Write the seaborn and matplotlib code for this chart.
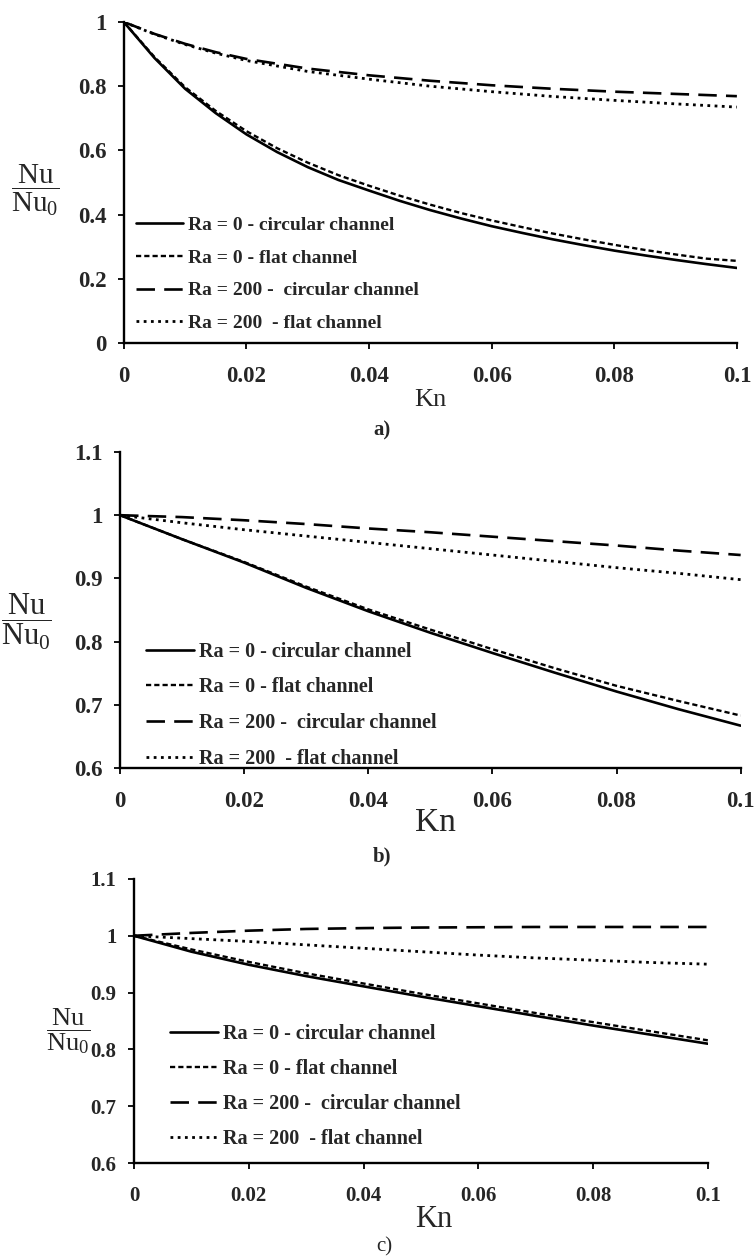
import numpy as np
import pandas as pd
import matplotlib
matplotlib.use("Agg")
import matplotlib.pyplot as plt
from matplotlib.ticker import FormatStrFormatter
import seaborn as sns

# Kn grids
KN_FINE = [0, 0.005, 0.01, 0.015, 0.02, 0.025, 0.03, 0.035, 0.04, 0.045, 0.05,
           0.055, 0.06, 0.065, 0.07, 0.075, 0.08, 0.085, 0.09, 0.095, 0.1]
KN_MID = [0, 0.005, 0.01, 0.015, 0.02, 0.03, 0.04, 0.05, 0.06, 0.07, 0.08, 0.09, 0.1]
KN_COARSE = [0, 0.01, 0.02, 0.03, 0.04, 0.05, 0.06, 0.07, 0.08, 0.09, 0.1]

# panel a)
A_RA0_CIRC = [1.0, 0.888, 0.792, 0.716, 0.65, 0.595, 0.548, 0.508, 0.475, 0.443, 0.414,
              0.388, 0.364, 0.343, 0.323, 0.305, 0.288, 0.273, 0.259, 0.246, 0.234]
A_RA0_FLAT = [1.0, 0.891, 0.797, 0.723, 0.66, 0.607, 0.562, 0.523, 0.49, 0.459, 0.431,
              0.405, 0.382, 0.361, 0.341, 0.323, 0.306, 0.29, 0.276, 0.263, 0.256]
A_RA200_CIRC = [1.0, 0.963, 0.932, 0.906, 0.885, 0.855, 0.834, 0.817, 0.803, 0.792, 0.783, 0.776, 0.769]
A_RA200_FLAT = [1.0, 0.962, 0.930, 0.903, 0.88, 0.846, 0.822, 0.8, 0.783, 0.768, 0.756, 0.745, 0.735]

# panel b)
B_RA0_CIRC = [1.0, 0.962, 0.925, 0.885, 0.848, 0.814, 0.782, 0.751, 0.721, 0.693, 0.667]
B_RA0_FLAT = [1.0, 0.962, 0.926, 0.887, 0.851, 0.819, 0.788, 0.758, 0.73, 0.706, 0.683]
B_RA200_CIRC = [1.0, 0.997, 0.992, 0.986, 0.979, 0.973, 0.966, 0.959, 0.952, 0.944, 0.937]
B_RA200_FLAT = [1.0, 0.988, 0.977, 0.967, 0.957, 0.947, 0.937, 0.927, 0.917, 0.908, 0.898]

# panel c)
C_RA0_CIRC = [1.0, 0.972, 0.949, 0.929, 0.911, 0.893, 0.876, 0.859, 0.842, 0.826, 0.81]
C_RA0_FLAT = [1.0, 0.976, 0.954, 0.934, 0.916, 0.898, 0.881, 0.864, 0.848, 0.832, 0.816]
C_RA200_CIRC = [1.0, 1.005, 1.009, 1.012, 1.0135, 1.0145, 1.015, 1.0155, 1.0155, 1.0155, 1.0155]
C_RA200_FLAT = [1.0, 0.995, 0.99, 0.984, 0.978, 0.972, 0.966, 0.961, 0.957, 0.953, 0.95]

LABELS = ["Ra = 0 - circular channel", "Ra = 0 - flat channel",
          "Ra = 200 -  circular channel", "Ra = 200  - flat channel"]
X_TICKS = [0, 0.02, 0.04, 0.06, 0.08, 0.1]

STYLES = [
    dict(linestyle="-", lw=1.9),
    dict(linestyle=(0, (2.2, 1.3)), lw=1.7),
    dict(linestyle=(0, (7, 3.5)), lw=1.9),
    dict(linestyle=(0, (1, 1.6)), lw=2.0),
]

sns.set_style("ticks")
plt.rcParams["font.family"] = ["Liberation Serif", "DejaVu Serif"]
plt.rcParams["mathtext.fontset"] = "custom"
plt.rcParams["mathtext.rm"] = "Liberation Serif"
plt.rcParams["mathtext.it"] = "Liberation Serif:italic"

fig = plt.figure(figsize=(7.55, 12.58), dpi=100)

panels = [
    dict(rect=[0.164, 0.7273, 0.812, 0.2552],
         series=[(KN_FINE, A_RA0_CIRC), (KN_FINE, A_RA0_FLAT), (KN_MID, A_RA200_CIRC), (KN_MID, A_RA200_FLAT)],
         ylim=(0, 1), yticks=[0, 0.2, 0.4, 0.6, 0.8, 1.0],
         tick_fs=16.5, leg_fs=14, leg_anchor=(0.02, 0.395), leg_sp=0.78, kn_fs=19, kn_xy=(0.5, -0.178),
         ylab_xy=(-0.145, 0.477), ylab_fs=21, tag="a)", tag_xy=(0.506, 0.658), tag_bold=True),
    dict(rect=[0.159, 0.3895, 0.822, 0.2512],
         series=[(KN_COARSE, B_RA0_CIRC), (KN_COARSE, B_RA0_FLAT), (KN_COARSE, B_RA200_CIRC), (KN_COARSE, B_RA200_FLAT)],
         ylim=(0.6, 1.1), yticks=[0.6, 0.7, 0.8, 0.9, 1.0, 1.1],
         tick_fs=16.5, leg_fs=14.5, leg_anchor=(0.042, 0.40), leg_sp=0.78, kn_fs=24, kn_xy=(0.508, -0.174),
         ylab_xy=(-0.150, 0.462), ylab_fs=22, tag="b)", tag_xy=(0.506, 0.3188), tag_bold=True),
    dict(rect=[0.1775, 0.0755, 0.760, 0.2258],
         series=[(KN_COARSE, C_RA0_CIRC), (KN_COARSE, C_RA0_FLAT), (KN_COARSE, C_RA200_CIRC), (KN_COARSE, C_RA200_FLAT)],
         ylim=(0.6, 1.1), yticks=[0.6, 0.7, 0.8, 0.9, 1.0, 1.1],
         tick_fs=15, leg_fs=14.5, leg_anchor=(0.062, 0.49), leg_sp=0.75, kn_fs=22, kn_xy=(0.523, -0.20),
         ylab_xy=(-0.115, 0.465), ylab_fs=19, tag="c)", tag_xy=(0.509, 0.009), tag_bold=False),
]

for p in panels:
    ax = fig.add_axes(p["rect"])
    for (kn, vals), label, st in zip(p["series"], LABELS, STYLES):
        df = pd.DataFrame({"Kn": kn, "ratio": vals})
        sns.lineplot(data=df, x="Kn", y="ratio", ax=ax, color="black", errorbar=None,
                     label=label, **st)

    ax.set_xlim(0, 0.1)
    ax.set_ylim(*p["ylim"])
    ax.set_xticks(X_TICKS)
    ax.set_yticks(p["yticks"])
    ax.xaxis.set_major_formatter(FormatStrFormatter("%g"))
    ax.yaxis.set_major_formatter(FormatStrFormatter("%g"))
    sns.despine(ax=ax)
    for side in ["left", "bottom"]:
        ax.spines[side].set_linewidth(1.7)
        ax.spines[side].set_color("black")
    ax.tick_params(axis="both", direction="out", length=4.5, width=1.3, color="black")
    ax.tick_params(axis="x", pad=12)
    ax.tick_params(axis="y", pad=8)
    for t in ax.get_xticklabels() + ax.get_yticklabels():
        t.set_fontweight("bold")
        t.set_fontsize(p["tick_fs"])

    ax.set_xlabel("Kn", fontsize=p["kn_fs"])
    ax.xaxis.set_label_coords(*p["kn_xy"])
    ax.xaxis.label.set_va("center")
    ax.set_ylabel(r"$\dfrac{\mathrm{Nu}}{\mathrm{Nu}_0}$", fontsize=p["ylab_fs"], rotation=0,
                  ha="center", va="center")
    ax.yaxis.set_label_coords(*p["ylab_xy"])

    ax.legend(loc="upper left", bbox_to_anchor=p["leg_anchor"], frameon=False,
              borderaxespad=0, borderpad=0, handlelength=2.4, handletextpad=0.25,
              labelspacing=p["leg_sp"], prop=dict(family="Liberation Serif", weight="bold",
                                                  size=p["leg_fs"]))

    fig.text(p["tag_xy"][0], p["tag_xy"][1], p["tag"], ha="center", va="center",
             fontsize=15, fontweight="bold" if p["tag_bold"] else "normal")

fig.savefig("out.png", dpi=100, facecolor="white")
